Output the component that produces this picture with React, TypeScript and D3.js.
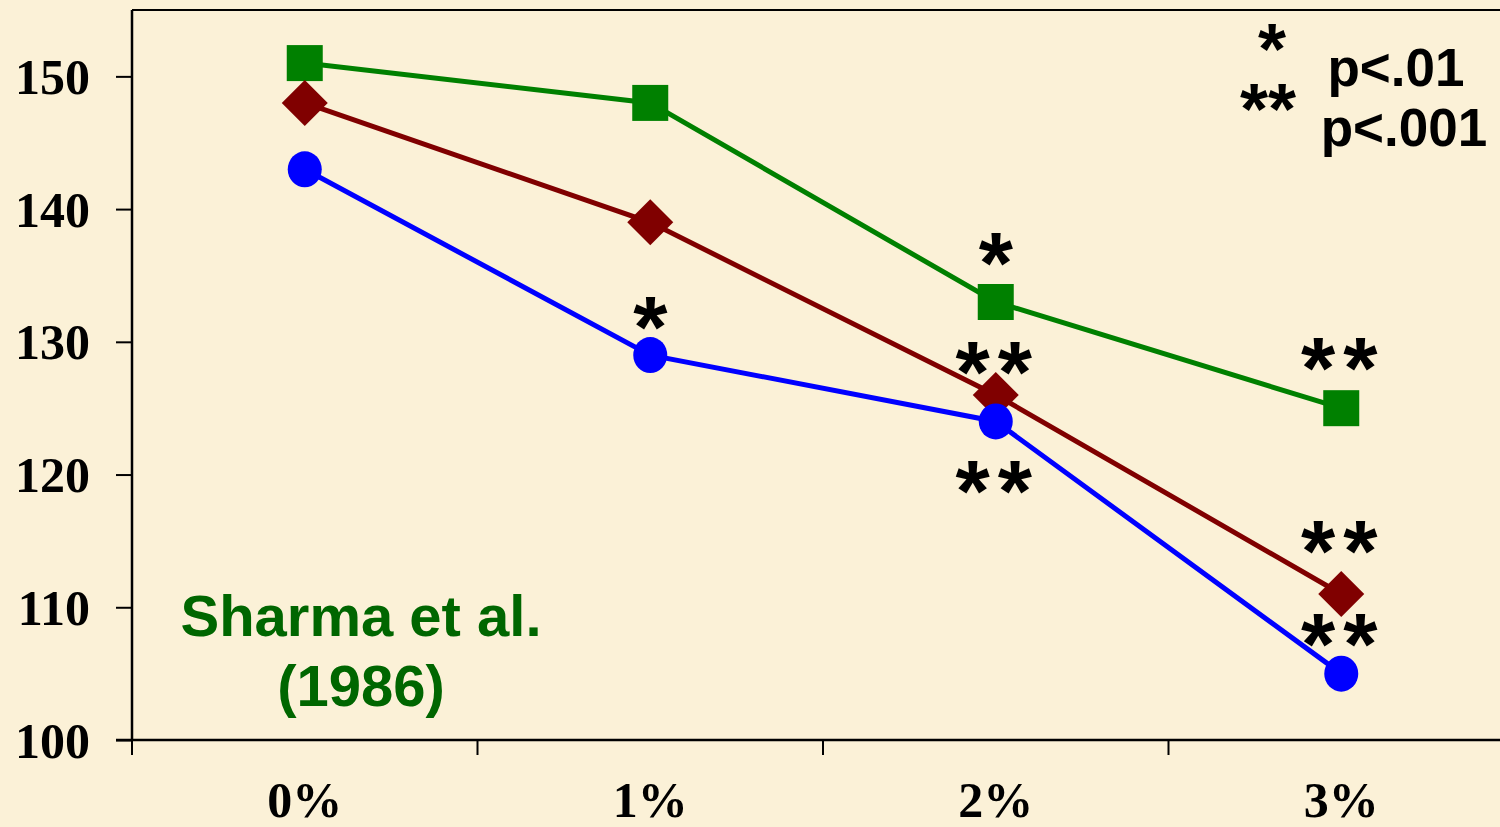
import React, { useRef, useEffect } from 'react'
import * as d3 from 'd3'

const categories = ['0%', '1%', '2%', '3%']
const greenValues = [151, 148, 133, 125]
const redValues = [148, 139, 126, 111]
const blueValues = [143, 129, 124, 105]
const yTicks = [100, 110, 120, 130, 140, 150]

// significance marks: category index, label, y (in data units)
const marks: [number, string, number][] = [
  [1, '*', 132.0],
  [2, '*', 136.8],
  [2, '**', 128.6],
  [2, '**', 119.6],
  [3, '**', 128.9],
  [3, '**', 115.1],
  [3, '**', 108.1],
]

const W = 1500
const H = 827

export default function App() {
  const svgRef = useRef<SVGSVGElement>(null)

  useEffect(() => {
    if (!svgRef.current) return
    const svg = d3.select(svgRef.current)
    svg.selectAll('*').remove()

    const left = 132
    const top = 10
    const bottom = 740
    const bandW = 345.5

    const x = d3.scaleBand<string>()
      .domain(categories)
      .range([left, left + bandW * categories.length])
    const y = d3.scaleLinear().domain([100, 155]).range([bottom, top])
    const cx = (i: number) => (x(categories[i]) as number) + x.bandwidth() / 2

    svg.append('rect').attr('width', W).attr('height', H).attr('fill', '#FBF1D7')

    // frame
    svg.append('line')
      .attr('x1', left).attr('x2', W).attr('y1', top).attr('y2', top)
      .attr('stroke', '#000').attr('stroke-width', 2)

    const yAxis = svg.append('g')
      .attr('transform', `translate(${left},0)`)
      .call(d3.axisLeft(y).tickValues(yTicks).tickSize(16).tickPadding(26).tickFormat(d3.format('d')))
    yAxis.select('.domain').attr('stroke-width', 2.5)
      .attr('d', `M0,${top}V${bottom}`)
    yAxis.selectAll('.tick line').attr('stroke-width', 2)
    yAxis.selectAll('.tick text')
      .attr('font-family', '"Liberation Serif", "Times New Roman", serif')
      .attr('font-weight', 'bold')
      .attr('font-size', 50)
      .attr('fill', '#000')
      .attr('dy', '0.34em')

    const xAxis = svg.append('g').attr('transform', `translate(0,${bottom})`)
    xAxis.append('line')
      .attr('x1', left - 16).attr('x2', W).attr('y1', 0).attr('y2', 0)
      .attr('stroke', '#000').attr('stroke-width', 2.5)
    xAxis.selectAll('line.tk')
      .data(categories)
      .join('line')
      .attr('class', 'tk')
      .attr('x1', d => x(d) as number).attr('x2', d => x(d) as number)
      .attr('y1', 0).attr('y2', 15)
      .attr('stroke', '#000').attr('stroke-width', 2)
    xAxis.selectAll('text')
      .data(categories)
      .join('text')
      .attr('x', (d, i) => cx(i))
      .attr('y', 77)
      .attr('text-anchor', 'middle')
      .attr('font-family', '"Liberation Serif", "Times New Roman", serif')
      .attr('font-weight', 'bold')
      .attr('font-size', 50)
      .text(d => d)

    const line = d3.line<number>().x((d, i) => cx(i)).y(d => y(d))
    const series = [
      { values: greenValues, color: '#008000', shape: 'square' },
      { values: redValues, color: '#800000', shape: 'diamond' },
      { values: blueValues, color: '#0000FF', shape: 'circle' },
    ]

    series.forEach(s => {
      svg.append('path')
        .attr('d', line(s.values))
        .attr('fill', 'none')
        .attr('stroke', s.color)
        .attr('stroke-width', 5)
    })

    series.forEach(s => {
      const g = svg.append('g')
      s.values.forEach((v, i) => {
        const px = cx(i)
        const py = y(v)
        if (s.shape === 'square') {
          g.append('rect')
            .attr('x', px - 18).attr('y', py - 18)
            .attr('width', 36).attr('height', 36)
            .attr('fill', s.color)
        } else if (s.shape === 'diamond') {
          g.append('path')
            .attr('d', `M${px},${py - 23}L${px + 23},${py}L${px},${py + 23}L${px - 23},${py}Z`)
            .attr('fill', s.color)
        } else {
          g.append('ellipse')
            .attr('cx', px).attr('cy', py)
            .attr('rx', 17).attr('ry', 18)
            .attr('fill', s.color)
        }
      })
    })

    // significance asterisks
    svg.append('g')
      .selectAll('text')
      .data(marks)
      .join('text')
      .attr('x', d => cx(d[0]) + (d[1].length > 1 ? 2 : 0))
      .attr('y', d => y(d[2]))
      .attr('dy', '0.47em')
      .attr('text-anchor', 'middle')
      .attr('font-family', '"Liberation Sans", Arial, sans-serif')
      .attr('font-weight', 'bold')
      .attr('font-size', 88)
      .attr('letter-spacing', d => (d[1].length > 1 ? 8 : 0))
      .text(d => d[1])

    // legend for the marks
    const leg = svg.append('g')
      .attr('font-family', '"Liberation Sans", Arial, sans-serif')
      .attr('font-weight', 'bold')
      .attr('fill', '#000')
    const stars = leg.append('text')
      .attr('text-anchor', 'middle').attr('font-size', 72)
    stars.append('tspan').attr('x', 1272).attr('y', 74).text('*')
    stars.append('tspan').attr('x', 1268).attr('y', 134).text('**')
    leg.append('text').attr('x', 1396).attr('y', 86)
      .attr('text-anchor', 'middle').attr('font-size', 53).text('p<.01')
    leg.append('text').attr('x', 1404).attr('y', 146)
      .attr('text-anchor', 'middle').attr('font-size', 53).text('p<.001')

    // source note
    const src = svg.append('g')
      .attr('font-family', '"Liberation Sans", Arial, sans-serif')
      .attr('font-weight', 'bold')
      .attr('fill', '#006600')
      .attr('text-anchor', 'middle')
      .attr('font-size', 58)
    src.append('text').attr('x', 361).attr('y', 636).text('Sharma et al.')
    src.append('text').attr('x', 361).attr('y', 706).text('(1986)')
  }, [])

  return (
    <svg
      ref={svgRef}
      width={W}
      height={H}
      style={{ position: 'fixed', left: 0, top: 0, display: 'block' }}
    />
  )
}
